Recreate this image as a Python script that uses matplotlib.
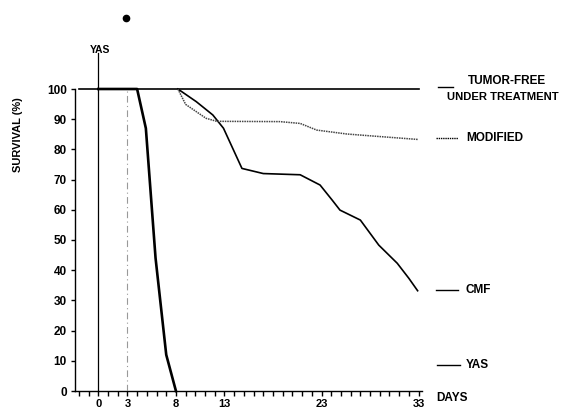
import matplotlib
matplotlib.use("Agg")
import matplotlib.pyplot as plt

plt.rcParams['font.family'] = ['Liberation Sans', 'DejaVu Sans']
plt.rcParams['font.weight'] = 'bold'

# data
tumor_free_days = [-2, 33]
tumor_free = [100, 100]

yas_days = [0, 4.0, 4.9, 5.9, 7.0, 8.0]
yas = [100, 100, 87, 44, 12, 0]

cmf_days = [8.2, 10.1, 11.8, 12.9, 14.8, 17.0, 20.8, 22.85, 24.1, 24.9, 27.0, 28.9, 30.8, 32.0, 32.9]
cmf = [100, 95.8, 91.4, 87, 73.7, 72.0, 71.6, 68.2, 63.2, 59.9, 56.6, 48.3, 42.3, 37.3, 33.2]

mod_days = [8.2, 9.0, 11.1, 12.2, 18.7, 20.8, 22.5, 25.6, 28.4, 32.9]
modified = [100, 94.9, 90.3, 89.3, 89.2, 88.6, 86.4, 85.1, 84.4, 83.3]

x_ticklabels = ['0', '3', '8', '13', '23', '33']
x_ticks = [0, 3, 8, 13, 23, 33]
y_ticks = list(range(0, 101, 10))

W, H = 561, 409
fig = plt.figure(figsize=(W / 100, H / 100), dpi=100)
left_px, right_px, top_px, bot_px = 75, 421.5, 89, 391
ax = fig.add_axes([left_px / W, (H - bot_px) / H, (right_px - left_px) / W, (bot_px - top_px) / H])
ax.set_xlim(-2.4, 33.3)
ax.set_ylim(0, 100)

for s in ['top', 'right']:
    ax.spines[s].set_visible(False)
ax.spines['left'].set_linewidth(1.0)
ax.spines['bottom'].set_linewidth(1.0)

ax.set_xticks(x_ticks)
ax.set_xticklabels(x_ticklabels, fontsize=8, fontweight='bold')
ax.set_xticks(list(range(-2, 34)), minor=True)
ax.tick_params(axis='x', which='both', direction='out', length=3.5, width=1.0, pad=2.5)
ax.set_yticks(y_ticks)
ax.set_yticklabels([str(v) for v in y_ticks], fontsize=8.5, fontweight='bold')
ax.tick_params(axis='y', direction='out', length=3, width=1.0, pad=3)

# curves
ax.plot(tumor_free_days, tumor_free, color='black', lw=1.2, clip_on=False, zorder=4)
ax.plot(yas_days, yas, color='black', lw=1.9, clip_on=False, zorder=5)
ax.plot(cmf_days, cmf, color='black', lw=1.2, clip_on=False, zorder=5)
ax.plot(mod_days, modified, color='#444444', lw=1.1, ls=(0, (1, 0.6)), clip_on=False, zorder=5)

# vertical markers
ax.plot([0, 0], [0, 112], color='black', lw=0.9, clip_on=False, zorder=3)
ax.plot([3, 3], [0, 100], color='#999999', lw=0.8, ls=(0, (6, 3, 1, 3)), zorder=3)
ax.text(0.15, 111.2, 'YAS', ha='center', va='bottom', fontsize=7.5, fontweight='bold')
ax.plot([2.9], [123.5], 'o', color='black', ms=4.5, clip_on=False)

# right-side labels
def seg(y, ls='-', x0=436, x1=458):
    fig.add_artist(plt.Line2D([x0 / W, x1 / W], [(H - y) / H, (H - y) / H],
                              color='black', lw=1.0, ls=ls))

seg(87, x0=438, x1=453)
fig.text(468 / W, (H - 81) / H, 'TUMOR-FREE', fontsize=8.5, fontweight='bold', va='center', ha='left')
fig.text(447 / W, (H - 97) / H, 'UNDER TREATMENT', fontsize=8.1, fontweight='bold', va='center', ha='left')
seg(138, ls=(0, (1, 0.6)))
fig.text(466 / W, (H - 138) / H, 'MODIFIED', fontsize=8.5, fontweight='bold', va='center', ha='left')
seg(290)
fig.text(466 / W, (H - 290) / H, 'CMF', fontsize=8.5, fontweight='bold', va='center', ha='left')
seg(365, x0=437, x1=460)
fig.text(466 / W, (H - 365) / H, 'YAS', fontsize=8.5, fontweight='bold', va='center', ha='left')
fig.text(436 / W, (H - 398) / H, 'DAYS', fontsize=8.5, fontweight='bold', va='center', ha='left')

fig.text(18 / W, (H - 135) / H, 'SURVIVAL (%)', fontsize=8, fontweight='bold',
         rotation=90, va='center', ha='center')

fig.savefig('out.png', dpi=100)
